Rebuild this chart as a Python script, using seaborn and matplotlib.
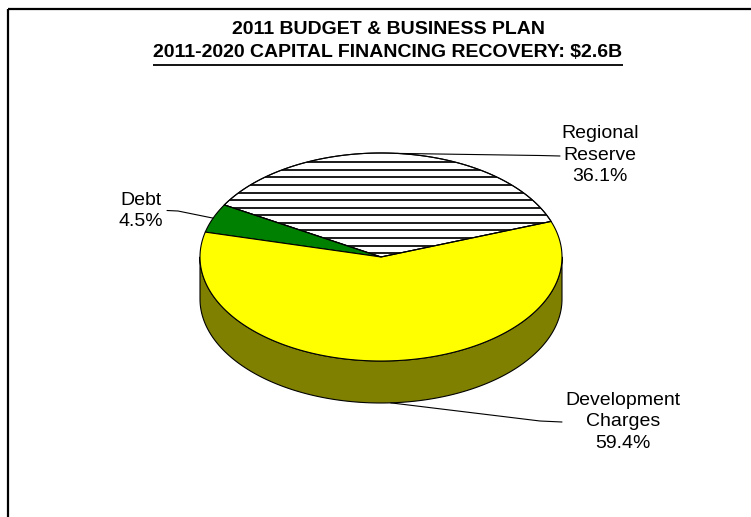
import numpy as np
import matplotlib
matplotlib.use("Agg")
import matplotlib.pyplot as plt
import seaborn as sns
from matplotlib.patches import Polygon, Rectangle
from matplotlib.colors import to_rgb

sns.set_theme(style="white")
plt.rcParams['font.family'] = ['Liberation Sans', 'DejaVu Sans']

# ---- chart content -------------------------------------------------------
title_line1 = "2011 BUDGET & BUSINESS PLAN"
title_line2 = "2011-2020 CAPITAL FINANCING RECOVERY: $2.6B"
categories = ["Regional\nReserve", "Debt", "Development\nCharges"]
shares = [36.1, 4.5, 59.4]
face_colors = ["#FFFFFF", "#008000", "#FFFF00"]
hatched = [True, False, False]

# ---- canvas in pixel units ----------------------------------------------
W, H = 751, 517
fig = plt.figure(figsize=(W / 100, H / 100), dpi=100)
ax = fig.add_axes([0, 0, 1, 1])
ax.set_xlim(0, W)
ax.set_ylim(H, 0)
ax.axis("off")

# outer chart frame (open at right and bottom edges)
ax.add_patch(Rectangle((7.5, 8.5), 900, 700, fill=False, lw=1.6,
                       ec="black", zorder=1))

# ---- 3-D pie geometry ----------------------------------------------------
cx, cy, rx, ry, depth = 381, 257, 181, 104, 42
start_angle = 20.0


def rim(theta_deg, drop=0.0):
    t = np.radians(theta_deg)
    return np.column_stack([cx + rx * np.cos(t), cy - ry * np.sin(t) + drop])


total = float(sum(shares))
bounds = start_angle + 360.0 * np.concatenate([[0], np.cumsum(shares)]) / total

# side walls (front half of the cylinder only)
for i, col in enumerate(face_colors):
    a0, a1 = bounds[i], bounds[i + 1]
    side_col = tuple(c * 0.5 for c in to_rgb(col))
    for k in (-1, 0, 1):
        lo, hi = 180 + 360 * k, 360 + 360 * k
        s, e = max(a0, lo), min(a1, hi)
        if e <= s:
            continue
        th = np.linspace(s, e, 200)
        pts = np.vstack([rim(th), rim(th[::-1], depth)])
        ax.add_patch(Polygon(pts, closed=True, fc=side_col, ec="black",
                             lw=0.8, joinstyle="round", zorder=2))

# top faces
for i, col in enumerate(face_colors):
    a0, a1 = bounds[i], bounds[i + 1]
    th = np.linspace(a0, a1, 300)
    pts = np.vstack([[cx, cy], rim(th)])
    wedge = Polygon(pts, closed=True, fc=col, ec="black", lw=0.8,
                    joinstyle="round", zorder=3)
    ax.add_patch(wedge)
    if hatched[i]:
        ys = np.arange(cy - ry + 9.3, cy + 1, 7.57)
        hl = ax.hlines(ys, cx - rx, cx + rx, colors="#1a1a1a", lw=1.4,
                       zorder=3.5)
        hl.set_clip_path(wedge)
        ax.add_patch(Polygon(pts, closed=True, fill=False, ec="black",
                             lw=0.8, joinstyle="round", zorder=3.6))

# ---- data labels with leader lines --------------------------------------
label_pos = [(600, 155), (141, 211), (623, 422)]
leader_bend = [(540, 155.5), (178, 211), (540, 421)]
leader_end = [(560, 156), (167, 210.5), (562, 422)]

for i, name in enumerate(categories):
    mid = 0.5 * (bounds[i] + bounds[i + 1])
    front = (mid % 360) > 180
    anchor = rim(mid, depth if front else 0.0)[0]
    xs = [anchor[0], leader_bend[i][0], leader_end[i][0]]
    ys = [anchor[1], leader_bend[i][1], leader_end[i][1]]
    ax.plot(xs, ys, color="black", lw=0.8, zorder=4)
    ax.text(label_pos[i][0], label_pos[i][1], f"{name}\n{shares[i]:.1f}%",
            ha="center", va="center", fontsize=14, linespacing=1.38,
            color="black", zorder=5)

# ---- title -----------------------------------------------------------------
ax.text(388, 30, title_line1, ha="center", va="center", fontsize=14,
        fontweight="bold", color="black")
t2 = ax.text(388, 52.5, title_line2, ha="center", va="center", fontsize=14,
             fontweight="bold", color="black")

fig.canvas.draw()
bb = t2.get_window_extent(renderer=fig.canvas.get_renderer())
inv = ax.transData.inverted()
(x0, _), (x1, _) = inv.transform([[bb.x0, bb.y0], [bb.x1, bb.y1]])
ax.plot([x0, x1], [64.5, 64.5], color="black", lw=1.3, solid_capstyle="butt")

fig.savefig("out.png", dpi=100)
